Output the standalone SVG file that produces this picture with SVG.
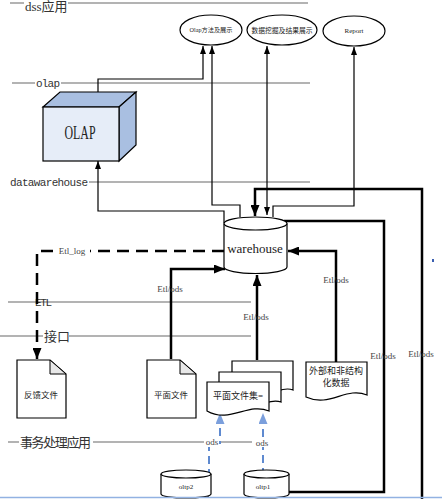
<svg xmlns="http://www.w3.org/2000/svg" width="442" height="499" viewBox="0 0 442 499">
<style>
.lane{stroke:#b3b3b3;stroke-width:2;fill:none}
.lt{font-family:"Liberation Mono",monospace;font-size:11px;fill:#333}
.lc{font-family:"Liberation Serif","Noto Sans CJK SC",serif;font-size:13px;fill:#333}
.thin{stroke:#000;stroke-width:1.2;fill:none}
.thick{stroke:#000;stroke-width:2.5;fill:none}
.dash{stroke:#000;stroke-width:2.5;fill:none;stroke-dasharray:12 7}
.blue{stroke:#5f8ad0;stroke-width:2;fill:none;stroke-dasharray:8 5}
.shape{fill:#fff;stroke:#000;stroke-width:1.2}
.t{font-family:"Liberation Serif","Noto Sans CJK SC",serif;fill:#222;text-anchor:middle}
.cl{font-family:"Liberation Serif",serif;font-size:9px;fill:#444;text-anchor:middle}
</style>
<defs>
<marker id="aThin" markerUnits="userSpaceOnUse" markerWidth="8" markerHeight="6" refX="8" refY="3" orient="auto-start-reverse"><path d="M0,0 L8,3 L0,6 z" fill="#000"/></marker>
<marker id="aThick" markerUnits="userSpaceOnUse" markerWidth="11" markerHeight="9" refX="11" refY="4.5" orient="auto"><path d="M0,0 L11,4.5 L0,9 z" fill="#000"/></marker>
<marker id="aBlue" markerUnits="userSpaceOnUse" markerWidth="11" markerHeight="9" refX="11" refY="4.5" orient="auto"><path d="M0,0 L11,4.5 L0,9 z" fill="#7b9fdc"/></marker>
</defs>
<rect width="442" height="499" fill="#fff"/>

<g id="lanes">
<line class="lane" x1="10" y1="3" x2="308" y2="3"/>
<rect x="24" y="0" width="44" height="12" fill="#fff"/>
<text class="lc" x="25" y="11" font-size="12">dss应用</text>
<line class="lane" x1="12" y1="83" x2="310" y2="83"/>
<rect x="35" y="77" width="26" height="11" fill="#fff"/>
<text class="lt" x="36" y="87" textLength="24">olap</text>
<line class="lane" x1="10" y1="182" x2="310" y2="182"/>
<rect x="9" y="175" width="80" height="12" fill="#fff"/>
<text class="lt" x="10" y="186" textLength="78">datawarehouse</text>
<line class="lane" x1="8" y1="302" x2="251" y2="302"/>
<text class="lt" x="35" y="306" textLength="17">ETL</text>
<line class="lane" x1="0" y1="336" x2="251" y2="336"/>
<rect x="43" y="329" width="26" height="14" fill="#fff"/>
<text class="lc" x="44" y="341" font-size="12">接口</text>
<line class="lane" x1="8" y1="442" x2="252" y2="442"/>
<rect x="19" y="434" width="74" height="16" fill="#fff"/>
<text class="lc" x="20" y="447" font-size="12.5" textLength="71">事务处理应用</text>
<rect x="432" y="259" width="2" height="3" fill="#3a5fb0"/>
</g>

<g id="connectors">
<path class="thin" d="M98,92 V79 H203 V46" marker-end="url(#aThin)"/>
<path class="thin" d="M224,223 V211 H98 V161" marker-end="url(#aThin)"/>
<path class="thin" d="M240,217 V205 H212 V46" marker-end="url(#aThin)"/>
<path class="thin" d="M267,215 V46" marker-start="url(#aThin)" marker-end="url(#aThin)"/>
<path class="thin" d="M273,217 V206 H354 V47" marker-end="url(#aThin)"/>
<path class="thick" d="M422,499 V189 H255 V216" marker-end="url(#aThick)"/>
<path class="thick" d="M284,221 H384 V492 H289"/>
<path class="thick" d="M336,362 V251 H288" marker-end="url(#aThick)"/>
<path class="thick" d="M257,360 V275" marker-end="url(#aThick)"/>
<path class="thick" d="M171,359 V269 H225" marker-end="url(#aThick)"/>
<path class="dash" d="M224,251 H37 V359" marker-end="url(#aThick)"/>
<path class="blue" d="M209,490 V443 H220 V413" marker-end="url(#aBlue)"/>
<path class="blue" d="M263,476 V413" marker-end="url(#aBlue)"/>
<line x1="208" y1="490" x2="208" y2="497" stroke="#000" stroke-width="1.5"/>
<rect x="55" y="246" width="35" height="10" fill="#fff"/>
<text class="cl" x="72" y="254">Etl_log</text>
<text class="cl" x="170" y="292">Etl/ods</text>
<text class="cl" x="256" y="320" font-size="7.5">Etl/ods</text>
<text class="cl" x="336" y="283" font-size="9.5">Etl/ods</text>
<text class="cl" x="383" y="359" font-size="9.5">Etl/ods</text>
<text class="cl" x="421" y="357" font-size="9.5">Etl/ods</text>
<rect x="204" y="437" width="15" height="10" fill="#fff"/>
<text class="cl" x="212" y="445">ods</text>
<rect x="254" y="437" width="15" height="10" fill="#fff"/>
<text class="cl" x="262" y="446">ods</text>
</g>

<g id="olap">
<path d="M43,107 L60,92 L136,92 L119,107 Z" fill="#a9bfe1" stroke="#000" stroke-width="1.2"/>
<path d="M119,107 L136,92 L136,145 L119,161 Z" fill="#a9bfe1" stroke="#000" stroke-width="1.2"/>
<rect x="43" y="107" width="76" height="54" fill="#e6edf8" stroke="#000" stroke-width="1.2"/>
<text class="t" x="80" y="139" font-size="18" textLength="31" lengthAdjust="spacingAndGlyphs">OLAP</text>
</g>

<g id="e-olap">
<ellipse class="shape" cx="211" cy="30" rx="31" ry="15"/>
<text class="t" x="211" y="32" font-size="6.2">Olap方法及展示</text>
</g>
<g id="e-mining">
<ellipse class="shape" cx="282" cy="30" rx="35" ry="15"/>
<text class="t" x="282" y="33" font-size="6.8">数据挖掘及结果展示</text>
</g>
<g id="e-report">
<ellipse class="shape" cx="354" cy="31" rx="31" ry="15"/>
<text class="t" x="354" y="33" font-size="7">Report</text>
</g>

<g id="warehouse">
<path class="shape" d="M224,223.5 V267 A31.5,6.5 0 0 0 287,267 V223.5"/>
<ellipse class="shape" cx="255.5" cy="223.5" rx="31.5" ry="6.5"/>
<text class="t" x="255" y="253" font-size="13">warehouse</text>
</g>

<g id="feedback">
<path class="shape" d="M17,360 H50 L66,374 V418 H17 Z"/>
<path d="M50,360 V374 H66 Z" fill="#e8e8e8" stroke="#000" stroke-width="1"/>
<text class="t" x="41" y="398" font-size="8.5">反馈文件</text>
</g>

<g id="flatfile">
<path class="shape" d="M147,360 H180 L196,374 V418 H147 Z"/>
<path d="M180,360 V374 H196 Z" fill="#e8e8e8" stroke="#000" stroke-width="1"/>
<text class="t" x="171" y="398" font-size="8.5">平面文件</text>
</g>

<g id="flatfiles">
<path class="shape" d="M232,361 H293 V390 C283,386 275,394 269,392 L232,392 Z"/>
<path class="shape" d="M219,372 H281 V402 C271,398 263,406 256,404 L219,404 Z"/>
<path class="shape" d="M207,382 H269 V411 C248,402 230,424 207,411 Z"/>
<text class="t" x="238" y="399" font-size="9">平面文件集=</text>
</g>

<g id="external">
<path class="shape" d="M306,362 H367 V395 C346,386 330,408 306,397 Z"/>
<text class="t" x="336" y="374" font-size="9">外部和非结构</text>
<text class="t" x="336" y="386" font-size="9">化数据</text>
</g>

<g id="oltp2">
<path class="shape" d="M161,474 V494 A25,4 0 0 0 211,494 V474"/>
<ellipse class="shape" cx="186" cy="474" rx="25" ry="4"/>
<text class="t" x="186" y="489" font-size="7">oltp2</text>
</g>
<g id="oltp1">
<path class="shape" d="M244,474 V494 A22.5,4 0 0 0 289,494 V474"/>
<ellipse class="shape" cx="266.5" cy="474" rx="22.5" ry="4"/>
<text class="t" x="263" y="489" font-size="7">oltp1</text>
</g>
<line x1="0" y1="497.5" x2="442" y2="497.5" stroke="#92b2e2" stroke-width="1.5"/>
</svg>
